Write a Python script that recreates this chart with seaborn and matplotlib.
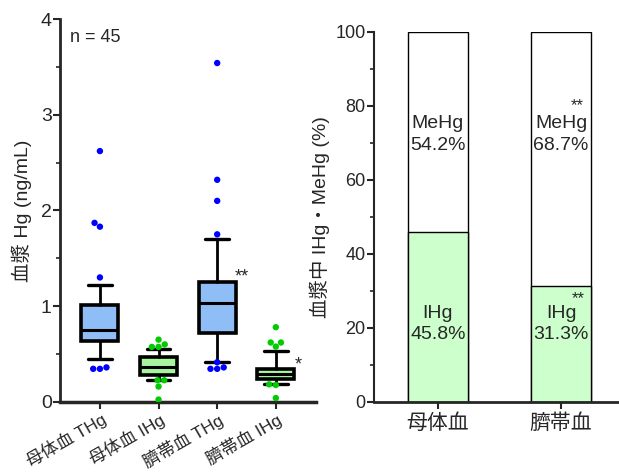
import numpy as np
import pandas as pd
import matplotlib
matplotlib.use("Agg")
import matplotlib.pyplot as plt
import seaborn as sns

# ---------------- data ----------------
groups = ["母体血 THg", "母体血 IHg", "臍帯血 THg", "臍帯血 IHg"]
q1 = [0.636, 0.278, 0.717, 0.243]
medians = [0.75, 0.362, 1.033, 0.296]
q3 = [1.012, 0.466, 1.256, 0.348]
whis_lo = [0.45, 0.23, 0.417, 0.184]
whis_hi = [1.22, 0.55, 1.70, 0.536]

out_g1 = [2.62, 1.87, 1.83, 1.30, 0.36, 0.345, 0.345]
out_g2 = [0.65, 0.60, 0.574, 0.574, 0.226, 0.226, 0.16, 0.024]
out_g3 = [3.54, 2.32, 2.10, 1.75, 0.414, 0.36, 0.345, 0.345]
out_g4 = [0.78, 0.62, 0.62, 0.577, 0.183, 0.176, 0.04]

blood = ["母体血", "臍帯血"]
ihg_pct = [45.8, 31.3]
mehg_pct = [54.2, 68.7]

# ---------------- style ----------------
sns.set_theme(style="ticks")
plt.rcParams['font.family'] = ['Liberation Sans', 'Noto Sans CJK JP', 'DejaVu Sans']

box_fill = ["#8fbdf5", "#a8f5a0", "#8fbdf5", "#a8f5a0"]
pt_color = ["#0000ff", "#00cc00", "#0000ff", "#00cc00"]

fig = plt.figure(figsize=(6.19, 4.75), dpi=100)
ax1 = fig.add_axes([0.097, 0.154, 0.413, 0.806])
ax2 = fig.add_axes([0.604, 0.154, 0.394, 0.779])

# ---------------- left: box plots ----------------
stats = []
for i, g in enumerate(groups):
    stats.append(dict(label=g, q1=q1[i], med=medians[i], q3=q3[i],
                      whislo=whis_lo[i], whishi=whis_hi[i], fliers=[]))
bp = ax1.bxp(stats, positions=range(len(groups)), widths=0.63,
             patch_artist=True, showfliers=False,
             boxprops=dict(linewidth=2.6, edgecolor="black"),
             medianprops=dict(linewidth=2.2, color="black"),
             whiskerprops=dict(linewidth=2.0, color="black"),
             capprops=dict(linewidth=2.4, color="black"),
             capwidths=0.4, zorder=2)
for patch, c in zip(bp["boxes"], box_fill):
    patch.set_facecolor(c)

outs = [out_g1, out_g2, out_g3, out_g4]
df_out = pd.DataFrame({
    "group": np.repeat(groups, [len(o) for o in outs]),
    "value": np.concatenate(outs),
})
sns.swarmplot(data=df_out, x="group", y="value", order=groups, hue="group",
              hue_order=groups, palette=pt_color, size=4.6, legend=False,
              linewidth=0, ax=ax1, zorder=3)

ax1.set_xlim(-0.68, 3.68)
ax1.set_ylim(0, 4)
ax1.set_yticks([0, 1, 2, 3, 4])
ax1.set_yticks([0.5, 1.5, 2.5, 3.5], minor=True)
ax1.set_xticks(range(len(groups)))
ax1.set_xticklabels(groups, rotation=30, ha="right", rotation_mode="anchor",
                    fontsize=12.5)
ax1.tick_params(axis="y", labelsize=14, width=1.5, length=5, pad=1)
ax1.tick_params(axis="y", which="minor", width=1.2, length=3)
ax1.tick_params(axis="x", width=1.5, length=5, pad=1)
ax1.set_xlabel("")
ax1.set_ylabel("血漿 Hg (ng/mL)", fontsize=14, labelpad=6)
for s in ["top", "right"]:
    ax1.spines[s].set_visible(False)
ax1.spines["left"].set_linewidth(2)
ax1.spines["bottom"].set_linewidth(2.5)
ax1.text(0.04, 0.975, "n = 45", transform=ax1.transAxes, fontsize=13,
         va="top", ha="left")
ax1.text(2.42, 1.30, "**", fontsize=13, ha="center", va="center")
ax1.text(3.38, 0.39, "*", fontsize=13, ha="center", va="center")

# ---------------- right: stacked bars ----------------
df_bar = pd.DataFrame({"blood": blood,
                       "total": np.array(ihg_pct) + np.array(mehg_pct),
                       "ihg": ihg_pct})
sns.barplot(data=df_bar, x="blood", y="total", color="white", saturation=1,
            edgecolor="black", linewidth=1.0, width=0.49, ax=ax2)
sns.barplot(data=df_bar, x="blood", y="ihg", color="#ccffcc", saturation=1,
            edgecolor="black", linewidth=1.0, width=0.49, ax=ax2)
ax2.set_xlim(-0.52, 1.46)
ax2.set_ylim(0, 100)
ax2.set_yticks(range(0, 101, 20))
ax2.set_yticks(range(10, 100, 20), minor=True)
ax2.tick_params(axis="y", labelsize=13, width=1.5, length=5, pad=1)
ax2.tick_params(axis="y", which="minor", width=1.2, length=3)
ax2.tick_params(axis="x", labelsize=15, width=1.5, length=5, pad=3)
ax2.set_xlabel("")
ax2.set_ylabel("血漿中 IHg・MeHg (%)", fontsize=14, labelpad=4)
for s in ["top", "right"]:
    ax2.spines[s].set_visible(False)
ax2.spines["left"].set_linewidth(1.5)
ax2.spines["bottom"].set_linewidth(2)

for i in range(len(blood)):
    ax2.text(i, 75.1, "MeHg", ha="center", va="center", fontsize=14)
    ax2.text(i, 69.2, f"{mehg_pct[i]:.1f}%", ha="center", va="center",
             fontsize=14)
    ax2.text(i, 24.0, "IHg", ha="center", va="center", fontsize=14)
    ax2.text(i, 18.1, f"{ihg_pct[i]:.1f}%", ha="center", va="center",
             fontsize=14)
ax2.text(1.13, 80.0, "**", fontsize=12, ha="center", va="center")
ax2.text(1.14, 28.0, "**", fontsize=12, ha="center", va="center")

fig.savefig("out.png", dpi=100)
